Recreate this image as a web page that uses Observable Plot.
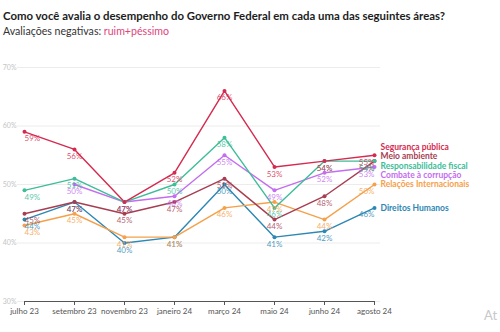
<!DOCTYPE html>
<html>
<head>
<meta charset="utf-8">
<script src="https://cdn.jsdelivr.net/npm/d3@7"></script>
<script src="https://cdn.jsdelivr.net/npm/@observablehq/plot@0.6"></script>
<style>
  html, body { margin: 0; padding: 0; background: #fff; }
  body { width: 500px; height: 332px; overflow: hidden; position: relative; font-family: Lato, "Open Sans", sans-serif; }
  #title { position: absolute; left: 3px; top: 7px; font-size: 11.4px; line-height: 17px; font-weight: 700; color: #1d1d1d; white-space: nowrap; }
  #subtitle { position: absolute; left: 3px; top: 24px; font-size: 10.6px; line-height: 14px; color: #333; white-space: nowrap; }
  #subtitle span { color: #e0457b; }
  #chart { position: absolute; left: 0; top: 40px; }
  #mark { position: absolute; left: 484px; top: 307px; font-size: 13px; color: #c8c8c8; }
</style>
</head>
<body>
<div id="title">Como você avalia o desempenho do Governo Federal em cada uma das seguintes áreas?</div>
<div id="subtitle">Avaliações negativas: <span>ruim+péssimo</span></div>
<div id="chart"></div>
<div id="mark">At</div>
<script>
const months = ["julho 23","setembro 23","novembro 23","janeiro 24","março 24","maio 24","junho 24","agosto 24"];
const seriesNames = ["Segurança pública","Meio ambiente","Responsabilidade fiscal","Combate à corrupção","Relações Internacionais","Direitos Humanos"];
const seriesColors = ["#d52a4f","#a63e52","#3dbd98","#c36df0","#f5a04b","#2c87b3"];
const seguranca   = [59,56,47,52,66,53,54,55];
const meioAmbiente= [45,47,45,47,51,44,48,54];
const respFiscal  = [49,51,47,50,58,46,54,54];
const corrupcao   = [null,50,47,48,55,49,52,53];
const relacoes    = [43,45,41,41,46,47,44,50];
const direitos    = [44,47,40,41,50,41,42,46];
const yTicks = [30,40,50,60,70];

const valuesBySeries = [seguranca, meioAmbiente, respFiscal, corrupcao, relacoes, direitos];
// drawing order (bottom to top)
const drawOrder = [5,4,3,1,2,0];

const data = [];
for (const si of drawOrder) {
  valuesBySeries[si].forEach((v, i) => {
    if (v != null) data.push({series: seriesNames[si], month: months[i], value: v, idx: i});
  });
}
const last = months.length - 1;
const firstData = data.filter(d => d.idx === 0);
const midData = data.filter(d => d.idx > 0 && d.idx < last);
const lastData = data.filter(d => d.idx === last);

// end labels, dodged apart (gap in value units)
const gap = 1.6;
let ends = seriesNames.map((s, i) => ({series: s, target: valuesBySeries[i][last], pos: valuesBySeries[i][last], order: i}));
ends.sort((a, b) => b.target - a.target || a.order - b.order);
for (let iter = 0; iter < 200; iter++) {
  let moved = false;
  for (let i = 0; i < ends.length - 1; i++) {
    const a = ends[i], b = ends[i + 1];
    const d = a.pos - b.pos;
    if (d < gap - 1e-6) {
      const push = (gap - d) / 2;
      a.pos += push; b.pos -= push; moved = true;
    }
  }
  if (!moved) break;
}
const labelMonth = () => months[last];

const color = {domain: seriesNames, range: seriesColors};

const chart = Plot.plot({
  width: 500,
  height: 292,
  marginTop: 27,
  marginBottom: 31,
  marginLeft: 17,
  marginRight: 120,
  style: {fontFamily: "Lato, 'Open Sans', sans-serif", background: "transparent"},
  x: {type: "point", domain: months, padding: 0, insetLeft: 5, insetRight: 5},
  y: {domain: [30, 70]},
  color,
  marks: [
    Plot.gridY(yTicks, {stroke: "#ececec", strokeOpacity: 1}),
    Plot.axisY(yTicks, {tickSize: 0, tickPadding: 1, fontSize: 7, color: "#c4c4c4", tickFormat: d => d + "%", label: null}),
    Plot.ruleY([30], {x1: () => months[0], x2: labelMonth, stroke: "#555", strokeWidth: 1}),
    Plot.axisX({tickSize: 4, tickPadding: 3, fontSize: 8, color: "#555", label: null}),
    Plot.line(data, {x: "month", y: "value", z: "series", stroke: "series", strokeWidth: 1.4}),
    Plot.dot(data, {x: "month", y: "value", fill: "series", r: 2}),
    Plot.text(firstData, {x: "month", y: "value", text: d => d.value + "%", fill: "series", fillOpacity: 0.85, dy: 7, fontSize: 8, textAnchor: "start"}),
    Plot.text(midData, {x: "month", y: "value", text: d => d.value + "%", fill: "series", fillOpacity: 0.85, dy: 7, fontSize: 8, textAnchor: "middle"}),
    Plot.text(lastData, {x: "month", y: "value", text: d => d.value + "%", fill: "series", fillOpacity: 0.85, dy: 7, fontSize: 8, textAnchor: "end"}),
    Plot.text(ends, {x: labelMonth, y: "pos", text: "series", fill: "series", dx: 6, fontSize: 8.5, fontWeight: 700, textAnchor: "start"})
  ]
});
document.getElementById("chart").appendChild(chart);
</script>
</body>
</html>
